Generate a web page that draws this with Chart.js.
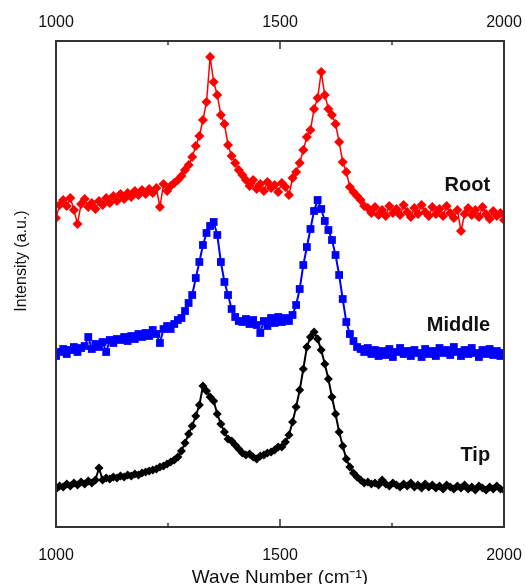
<!DOCTYPE html>
<html>
<head>
<meta charset="utf-8">
<script src="https://cdn.jsdelivr.net/npm/chart.js@4.4.0/dist/chart.umd.min.js"></script>
<style>
  html, body { margin: 0; padding: 0; background: #fff; }
  #grafico { display: block; }
</style>
</head>
<body>
<canvas id="grafico" width="526" height="584"></canvas>
<script>
// numero de onda (cm-1)
const numeroOnda = [
  1000, 1008, 1016, 1024, 1032, 1040, 1048, 1056, 1064, 1072,
  1080, 1088, 1096, 1104, 1112, 1120, 1128, 1136, 1144, 1152,
  1160, 1168, 1176, 1184, 1192, 1200, 1208, 1216, 1224, 1232,
  1240, 1248, 1256, 1264, 1272, 1280, 1288, 1296, 1304, 1312,
  1320, 1328, 1336, 1344, 1352, 1360, 1368, 1376, 1384, 1392,
  1400, 1408, 1416, 1424, 1432, 1440, 1448, 1456, 1464, 1472,
  1480, 1488, 1496, 1504, 1512, 1520, 1528, 1536, 1544, 1552,
  1560, 1568, 1576, 1584, 1592, 1600, 1608, 1616, 1624, 1632,
  1640, 1648, 1656, 1664, 1672, 1680, 1688, 1696, 1704, 1712,
  1720, 1728, 1736, 1744, 1752, 1760, 1768, 1776, 1784, 1792,
  1800, 1808, 1816, 1824, 1832, 1840, 1848, 1856, 1864, 1872,
  1880, 1888, 1896, 1904, 1912, 1920, 1928, 1936, 1944, 1952,
  1960, 1968, 1976, 1984, 1992, 2000
];

const raiz = [
  309, 322, 327, 321, 329, 317, 303, 323, 328, 320,
  324, 318, 326, 322, 329, 324, 331, 326, 333, 328,
  334, 330, 336, 332, 337, 333, 338, 334, 339, 320,
  343, 336, 341, 344, 347, 351, 357, 362, 370, 381,
  391, 407, 425, 470, 445, 432, 412, 403, 382, 371,
  364, 357, 352, 347, 341, 347, 338, 343, 336, 345,
  339, 342, 335, 344, 340, 332, 349, 355, 364, 377,
  390, 397, 418, 429, 455, 432, 418, 412, 403, 385,
  365, 355, 340, 335, 331, 327, 321, 319, 314, 320,
  312, 317, 311, 321, 314, 318, 312, 322, 315, 310,
  319, 313, 322, 315, 311, 320, 313, 318, 311, 321,
  314, 309, 317, 296, 313, 319, 312, 317, 310, 320,
  313, 308, 316, 311, 314, 307
];

const medio = [
  171, 175, 178, 173, 177, 180, 175, 179, 181, 190,
  178, 183, 180, 185, 175, 187, 184, 188, 187, 190,
  186, 191, 188, 193, 190, 194, 191, 197, 193, 184,
  198, 201, 198, 203, 207, 209, 216, 224, 232, 249,
  265, 282, 294, 301, 305, 292, 265, 245, 232, 218,
  210, 206, 205, 208, 203, 207, 202, 194, 206, 201,
  209, 204, 210, 205, 209, 206, 212, 222, 238, 262,
  280, 298, 316, 327, 318, 306, 297, 287, 272, 252,
  228, 205, 193, 186, 180, 178, 175, 179, 173, 177,
  171, 176, 172, 178, 170, 175, 179, 173, 176, 171,
  177, 174, 170, 178, 173, 176, 171, 179, 174, 177,
  172, 180, 175, 171, 177, 173, 179, 174, 170, 177,
  173, 178, 172, 176, 171, 174
];

const punta = [
  38, 41, 40, 43, 41, 44, 42, 45, 43, 46,
  44, 47, 59, 47, 49, 48, 50, 49, 51, 50,
  52, 51, 53, 52, 54, 55, 56, 57, 58, 60,
  61, 63, 65, 67, 70, 76, 84, 93, 101, 111,
  122, 141, 136, 130, 126, 113, 103, 95, 88, 86,
  82, 78, 74, 72, 73, 70, 68, 71, 72, 74,
  75, 77, 80, 80, 85, 92, 105, 120, 137, 158,
  180, 190, 195, 188, 177, 163, 148, 130, 113, 95,
  81, 68, 60, 54, 50, 47, 44, 45, 43, 44,
  42, 47, 43, 41, 44, 42, 40, 43, 41, 44,
  40, 42, 39, 43, 40, 42, 39, 41, 38, 42,
  40, 38, 41, 39, 42, 38, 40, 37, 41, 39,
  37, 40, 38, 41, 38, 37
];

const nombres = ["Root", "Middle", "Tip"];
const ticksMayores = [1000, 1500, 2000];
const ticksMenores = [1250, 1750];

const fuente = "'Liberation Sans', Arial, sans-serif";
Chart.defaults.font.family = fuente;

function puntos(valores) {
  return numeroOnda.map((x, i) => ({ x: x, y: valores[i] }));
}

// marco, ticks hacia adentro, nombres de las curvas y titulo del eje y
const marcoPlugin = {
  id: "marco",
  afterDraw(chart) {
    const { ctx, chartArea: a, scales } = chart;
    const ex = scales.x;
    ctx.save();
    ctx.strokeStyle = "#333";
    ctx.lineWidth = 2;
    ctx.strokeRect(a.left, a.top, a.right - a.left, a.bottom - a.top);

    ctx.lineWidth = 1.5;
    ctx.beginPath();
    const marcas = ticksMayores.map((v) => [v, 8]).concat(ticksMenores.map((v) => [v, 4]));
    marcas.forEach(([v, largo]) => {
      const px = ex.getPixelForValue(v);
      ctx.moveTo(px, a.bottom);
      ctx.lineTo(px, a.bottom - largo);
      ctx.moveTo(px, a.top);
      ctx.lineTo(px, a.top + largo);
    });
    ctx.stroke();

    ctx.fillStyle = "#111";
    ctx.font = "bold 20px " + fuente;
    ctx.textAlign = "right";
    ctx.textBaseline = "middle";
    const ey = scales.y;
    ctx.fillText(nombres[0], ex.getPixelForValue(1969), ey.getPixelForValue(342));
    ctx.fillText(nombres[1], ex.getPixelForValue(1969), ey.getPixelForValue(202));
    ctx.fillText(nombres[2], ex.getPixelForValue(1969), ey.getPixelForValue(72));

    ctx.translate(22, a.top + 220);
    ctx.rotate(-Math.PI / 2);
    ctx.font = "16px " + fuente;
    ctx.textAlign = "center";
    ctx.fillText("Intensity (a.u.)", 0, 0);
    ctx.restore();
  },
};

const ejeX = (posicion, alto, relleno) => ({
  type: "linear",
  position: posicion,
  min: 1000,
  max: 2000,
  afterFit: (s) => {
    s.height = alto;
    s.paddingLeft = 0;
    s.paddingRight = 0;
  },
  grid: { display: false, drawTicks: false },
  border: { display: false },
  ticks: {
    stepSize: 500,
    padding: relleno,
    color: "#111",
    font: { size: 16 },
    callback: (v) => String(v),
  },
});

const escalaX = ejeX("bottom", 57, 19);
escalaX.title = {
  display: true,
  text: "Wave Number (cm\u207B\u00B9)",
  color: "#111",
  font: { size: 19, lineHeight: 1 },
  padding: { top: 0, bottom: -3 },
};

new Chart(document.getElementById("grafico"), {
  type: "line",
  data: {
    datasets: [
      {
        label: nombres[0],
        data: puntos(raiz),
        borderColor: "#ff0000",
        backgroundColor: "#ff0000",
        borderWidth: 1.5,
        pointStyle: "rectRot",
        pointRadius: 5,
        pointBorderWidth: 0,
      },
      {
        label: nombres[1],
        data: puntos(medio),
        borderColor: "#0000ff",
        backgroundColor: "#0000ff",
        borderWidth: 2,
        pointStyle: "rect",
        pointRadius: 5.5,
        pointBorderWidth: 0,
      },
      {
        label: nombres[2],
        data: puntos(punta),
        borderColor: "#000000",
        backgroundColor: "#000000",
        borderWidth: 2,
        pointStyle: "rectRot",
        pointRadius: 4.5,
        pointBorderWidth: 0,
      },
    ],
  },
  options: {
    responsive: false,
    animation: false,
    layout: { padding: { left: 0, right: 22, top: 0, bottom: 0 } },
    plugins: {
      legend: { display: false },
      tooltip: { enabled: false },
    },
    scales: {
      x: escalaX,
      x2: ejeX("top", 41, 9),
      y: {
        type: "linear",
        min: 0,
        max: 486,
        afterFit: (s) => { s.width = 56; },
        grid: { display: false, drawTicks: false },
        border: { display: false },
        ticks: { display: false },
      },
    },
  },
  plugins: [marcoPlugin],
});
</script>
</body>
</html>
